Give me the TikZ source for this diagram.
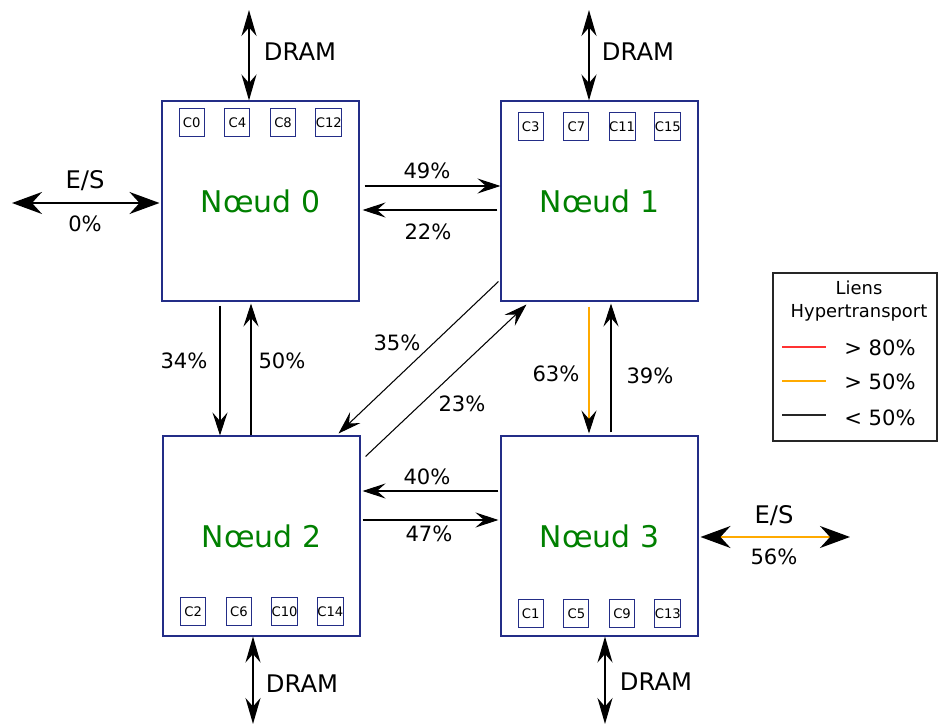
\documentclass[tikz,border=0pt]{standalone}
\usepackage{fontspec}
\setmainfont{DejaVu Sans}
\usetikzlibrary{calc, arrows.meta, positioning}

\definecolor{bleunoeud}{RGB}{35,45,135}
\definecolor{vertnoeud}{RGB}{0,128,0}
\definecolor{orangelien}{RGB}{255,170,0}
\definecolor{rougelien}{RGB}{255,50,50}

\tikzset{
	noeud/.style={draw=bleunoeud, line width=0.6pt, minimum width=3.94cm, minimum height=4cm, text=vertnoeud, font=\fontsize{17}{20}\selectfont},
	coeur/.style={draw=bleunoeud, line width=0.6pt, minimum width=0.5cm, minimum height=0.56cm, inner sep=0pt, font=\fontsize{7.5}{9}\selectfont},
	lien/.style={line width=0.6pt, -{Stealth[length=0.46cm, width=0.3cm, inset=0.17cm, color=black]}},
	memoire/.style={line width=1.1pt, {Stealth[length=0.52cm, width=0.3cm, inset=0.17cm]}-{Stealth[length=0.52cm, width=0.3cm, inset=0.17cm]}},
	es/.style={line width=1.1pt, {Stealth[length=0.6cm, width=0.44cm, inset=0.2cm, color=black]}-{Stealth[length=0.6cm, width=0.44cm, inset=0.2cm, color=black]}},
	etiq/.style={font=\fontsize{12}{14}\selectfont},
	grande/.style={font=\fontsize{13.8}{16}\selectfont},
}

\begin{document}
\begin{tikzpicture}[x=0.02cm, y=-0.02cm]
	\useasboundingbox (0,0) rectangle (938,726);

	% les quatre noeuds
	\node[noeud] (n0) at (260.5,201) {Nœud 0};
	\node[noeud] (n1) at (599.5,201) {Nœud 1};
	\node[noeud] (n2) at (261.5,536) {Nœud 2};
	\node[noeud] (n3) at (599.5,536) {Nœud 3};

	% coeurs
	\foreach \c [count=\i] in {0,4,8,12}
		\node[coeur] (c\c) at ($(n0.north west)+(-15.5+45.7*\i,22)$) {C\c};
	\foreach \c [count=\i] in {3,7,11,15}
		\node[coeur] (c\c) at ($(n1.north west)+(-15.5+45.7*\i,26)$) {C\c};
	\foreach \c [count=\i] in {2,6,10,14}
		\node[coeur] (c\c) at ($(n2.south west)+(-15+45.7*\i,-25)$) {C\c};
	\foreach \c [count=\i] in {1,5,9,13}
		\node[coeur] (c\c) at ($(n3.south west)+(-15.5+45.7*\i,-23)$) {C\c};

	% memoire
	\coordinate (d0) at (249,10);
	\coordinate (d1) at (589,10);
	\coordinate (d2) at (253,724);
	\coordinate (d3) at (605,724);
	\draw[memoire] (d0) -- (d0 |- n0.north);
	\draw[memoire] (d1) -- (d1 |- n1.north);
	\draw[memoire] (d2 |- n2.south) -- (d2);
	\draw[memoire] (d3 |- n3.south) -- (d3);
	\node[grande] (dram0) at (300,52) {DRAM};
	\node[grande] (dram1) at (638,52) {DRAM};
	\node[grande] (dram2) at (302,684) {DRAM};
	\node[grande] (dram3) at (656,682) {DRAM};

	% entrees/sorties
	\coordinate (es0) at (12,203);
	\coordinate (es3) at (850,537);
	\draw[es] (es0) -- ($(n0.west |- es0)+(-2,0)$);
	\draw[es, draw=orangelien] ($(n3.east |- es3)+(2,0)$) -- (es3);
	\node[grande] (tes0) at (85,181) {E/S};
	\node[etiq] (pes0) at (85,224) {0\%};
	\node[grande] (tes3) at (774,516) {E/S};
	\node[etiq] (pes3) at (774,557) {56\%};

	% liens hypertransport
	\draw[lien] ($(n0.east)+(5,-15)$) -- ($(n1.west)+(0,-15)$);
	\draw[lien] ($(n1.west)+(-3,9)$) -- ($(n0.east)+(3,9)$);
	\draw[lien] ($(n0.south)+(-40.5,4)$) -- ($(n2.north)+(-41.5,0)$);
	\draw[lien] ($(n2.north)+(-10.5,0)$) -- ($(n0.south)+(-9.5,2)$);
	\draw[lien, draw=orangelien] ($(n1.south)+(-10.5,5)$) -- ($(n3.north)+(-10.5,-2)$);
	\draw[lien] ($(n3.north)+(11.5,-3)$) -- ($(n1.south)+(11.5,2)$);
	\draw[lien] ($(n3.west)+(-2,-45)$) -- ($(n2.east)+(2,-45)$);
	\draw[lien] ($(n2.east)+(2,-16)$) -- ($(n3.west)+(-2,-16)$);
	\draw[lien] ($(n1.south west)+(-2,-20)$) -- ($(n2.north east)+(-22,-2)$);
	\draw[lien] ($(n2.north east)+(5,21)$) -- ($(n1.south west)+(26,3)$);

	\node[etiq] (p01) at (427,171) {49\%};
	\node[etiq] (p10) at (428,232) {22\%};
	\node[etiq] (p02) at (184,361) {34\%};
	\node[etiq] (p20) at (282,361) {50\%};
	\node[etiq] (p12) at (397,343) {35\%};
	\node[etiq] (p21) at (462,404) {23\%};
	\node[etiq] (p13) at (556,374) {63\%};
	\node[etiq] (p31) at (650,376) {39\%};
	\node[etiq] (p32) at (427,477) {40\%};
	\node[etiq] (p23) at (429,534) {47\%};

	% legende
	\node[draw=black!85, line width=0.6pt, minimum width=3.28cm, minimum height=3.36cm] (legende) at (855,357) {};
	\node[font=\fontsize{10.2}{13}\selectfont, align=center] (titre) at (859,301) {Liens\\Hypertransport};
	\draw[rougelien, line width=0.7pt] (782,347) -- (826,347);
	\draw[orangelien, line width=0.7pt] (782,381) -- (826,381);
	\draw[black!85, line width=0.7pt] (782,415) -- (826,415);
	\node[etiq] (l80) at (880,348) {> 80\%};
	\node[etiq] (l50) at (880,382) {> 50\%};
	\node[etiq] (l0) at (880,418) {< 50\%};
\end{tikzpicture}
\end{document}
